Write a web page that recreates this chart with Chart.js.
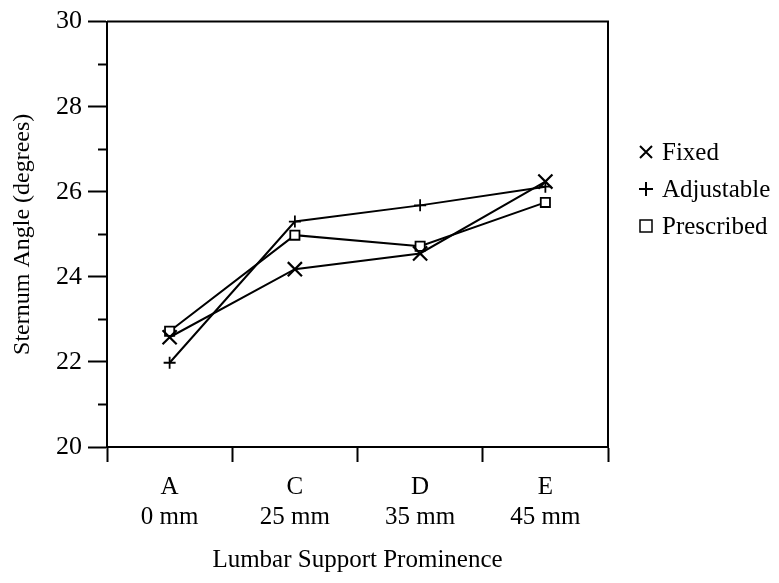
<!DOCTYPE html>
<html>
<head>
<meta charset="utf-8">
<script src="https://cdn.jsdelivr.net/npm/chart.js@4/dist/chart.umd.min.js"></script>
<style>
  html, body { margin: 0; padding: 0; background: #fff; }
</style>
</head>
<body>
<canvas id="chart" width="779" height="583"></canvas>
<script>
// values
const categories = [['A', '0 mm'], ['C', '25 mm'], ['D', '35 mm'], ['E', '45 mm']];
const fixedAngle = [22.58, 24.18, 24.55, 26.24];
const adjustableAngle = [21.98, 25.3, 25.68, 26.12];
const prescribedAngle = [22.72, 24.98, 24.72, 25.75];
const seriesNames = ['Fixed', 'Adjustable', 'Prescribed'];
const yMin = 20, yMax = 30;

const FONT = 'Liberation Serif';

// box round the plot (top + right edges)
const frame = {
    id: 'frame',
    afterDatasetsDraw(chart) {
        const { ctx, chartArea: a } = chart;
        ctx.save();
        ctx.strokeStyle = '#000';
        ctx.lineWidth = 2;
        ctx.beginPath();
        ctx.moveTo(a.left, a.top);
        ctx.lineTo(a.right, a.top);
        ctx.lineTo(a.right, a.bottom);
        ctx.stroke();
        ctx.restore();
    }
};

// legend on the right side, marker then label
const sideLegend = {
    id: 'sideLegend',
    afterDraw(chart) {
        const { ctx, chartArea: a } = chart;
        ctx.save();
        ctx.font = '25px "' + FONT + '"';
        ctx.textBaseline = 'middle';
        ctx.fillStyle = '#000';
        ctx.strokeStyle = '#000';
        chart.data.datasets.forEach((ds, i) => {
            const y = 152 + i * 37;
            const x = a.right + 38;
            ctx.beginPath();
            if (ds.pointStyle === 'crossRot') {
                ctx.lineWidth = 2;
                ctx.moveTo(x - 6, y - 6); ctx.lineTo(x + 6, y + 6);
                ctx.moveTo(x + 6, y - 6); ctx.lineTo(x - 6, y + 6);
                ctx.stroke();
            } else if (ds.pointStyle === 'cross') {
                ctx.lineWidth = 2;
                ctx.moveTo(x - 7, y); ctx.lineTo(x + 7, y);
                ctx.moveTo(x, y - 7); ctx.lineTo(x, y + 7);
                ctx.stroke();
            } else {
                ctx.lineWidth = 1.5;
                ctx.strokeRect(x - 6, y - 6, 12, 12);
            }
            ctx.fillText(ds.label, x + 16, y + 1);
        });
        ctx.restore();
    }
};

new Chart(document.getElementById('chart').getContext('2d'), {
    type: 'line',
    data: {
        labels: categories,
        datasets: [
            {
                label: seriesNames[0],
                data: fixedAngle,
                pointStyle: 'crossRot',
                pointRadius: 10,
                pointBorderWidth: 2.2
            },
            {
                label: seriesNames[1],
                data: adjustableAngle,
                pointStyle: 'cross',
                pointRadius: 6,
                pointBorderWidth: 1.8
            },
            {
                label: seriesNames[2],
                data: prescribedAngle,
                pointStyle: 'rect',
                pointRadius: 6.5,
                pointBorderWidth: 1.8
            }
        ].map(ds => Object.assign(ds, {
            borderColor: '#000',
            backgroundColor: '#fff',
            pointBorderColor: '#000',
            pointBackgroundColor: '#fff',
            borderWidth: 2,
            tension: 0
        }))
    },
    options: {
        responsive: false,
        animation: false,
        layout: { padding: { top: 19, right: 171, left: 0, bottom: 0 } },
        plugins: {
            legend: { display: false },
            tooltip: { enabled: false }
        },
        scales: {
            x: {
                offset: true,
                afterFit: scale => { scale.height = 136; },
                grid: {
                    offset: true,
                    drawOnChartArea: false,
                    tickLength: 15,
                    tickWidth: 2,
                    tickColor: '#000'
                },
                border: { display: true, color: '#000', width: 2 },
                ticks: {
                    color: '#000',
                    padding: 10,
                    maxRotation: 0,
                    font: { family: FONT, size: 25, lineHeight: 1.2 }
                },
                title: {
                    display: true,
                    text: 'Lumbar Support Prominence',
                    color: '#000',
                    padding: { top: 0, bottom: 8 },
                    font: { family: FONT, size: 25, lineHeight: 1.2 }
                }
            },
            y: {
                min: yMin,
                max: yMax,
                afterFit: scale => { scale.width = 107; },
                grid: {
                    drawOnChartArea: false,
                    tickLength: 19,
                    tickWidth: 2,
                    tickColor: '#000',
                    // odd values are short minor ticks
                    tickBorderDash: c => (c.tick && c.tick.value % 2) ? [9, 10] : [],
                    tickBorderDashOffset: c => (c.tick && c.tick.value % 2) ? 9 : 0
                },
                border: { display: true, color: '#000', width: 2 },
                ticks: {
                    stepSize: 1,
                    color: '#000',
                    padding: 6,
                    font: { family: FONT, size: 26 },
                    callback: v => (v % 2 === 0 ? v : '')
                },
                title: {
                    display: true,
                    text: 'Sternum Angle (degrees)',
                    color: '#000',
                    padding: { top: 8, bottom: 0 },
                    font: { family: FONT, size: 24, lineHeight: 1.2 }
                }
            }
        }
    },
    plugins: [frame, sideLegend]
});
</script>
</body>
</html>
